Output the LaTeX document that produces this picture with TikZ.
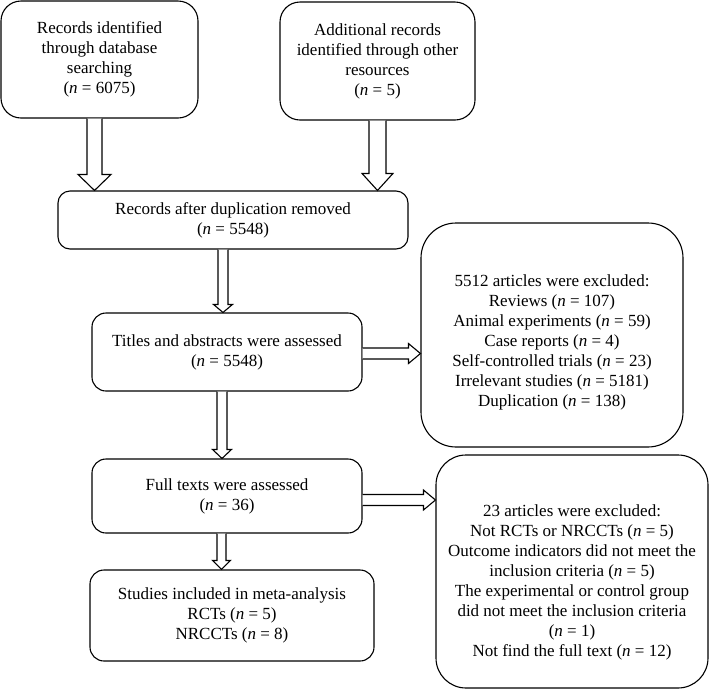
\documentclass[tikz,border=0pt]{standalone}
\usepackage{fontspec}
\setmainfont{Liberation Serif}
\usetikzlibrary{calc}
\newcommand\vhollow[6]{% #1 x, #2 from node, #3 to node, #4 shaft half, #5 head half, #6 head length
  \draw[hollow] let \p1=(#2.south), \p2=(#3.north) in
    (#1pt-#4pt,\y1) -- (#1pt-#4pt,\y2+#6pt) -- (#1pt-#5pt,\y2+#6pt) -- (#1pt,\y2)
    -- (#1pt+#5pt,\y2+#6pt) -- (#1pt+#4pt,\y2+#6pt) -- (#1pt+#4pt,\y1);}
\newcommand\hhollow[6]{% #1 y px, #2 from node, #3 to node, #4 shaft half, #5 head half, #6 head length
  \draw[hollow] let \p1=(#2.east), \p2=(#3.west) in
    (\x1,-#1pt+#4pt) -- (\x2-#6pt,-#1pt+#4pt) -- (\x2-#6pt,-#1pt+#5pt) -- (\x2,-#1pt)
    -- (\x2-#6pt,-#1pt-#5pt) -- (\x2-#6pt,-#1pt-#4pt) -- (\x1,-#1pt-#4pt);}
\begin{document}
\begin{tikzpicture}[x=1pt,y=-1pt,
  font=\fontsize{17}{20}\selectfont,
  box/.style={draw=black, line width=1.1pt, fill=white, align=center, inner sep=0pt},
  txt/.style={align=center, inner sep=0pt},
  hollow/.style={draw=black, line width=1.1pt, fill=white, line join=miter}]
\useasboundingbox (0,0) rectangle (710,697);
\node[box, rounded corners=20pt, minimum width=197pt, minimum height=117pt] (b1) at (99.5,59.5)
  {Records identified\\through database\\searching\\(\textit{n} = 6075)};
\node[box, rounded corners=20pt, minimum width=195pt, minimum height=118pt] (b2) at (377.5,61)
  {Additional records\\identified through other\\resources\\(\textit{n} = 5)};
\node[box, rounded corners=12pt, minimum width=350pt, minimum height=58pt] (b3) at (233,220)
  {Records after duplication removed\\(\textit{n} = 5548)};
\node[box, rounded corners=14pt, minimum width=270pt, minimum height=78pt] (b4) at (227,352)
  {Titles and abstracts were assessed\\(\textit{n} = 5548)};
\node[box, rounded corners=14pt, minimum width=270pt, minimum height=74pt] (b5) at (227,496)
  {Full texts were assessed\\(\textit{n} = 36)};
\node[box, rounded corners=14pt, minimum width=284pt, minimum height=91pt] (b6) at (232,615.5)
  {Studies included in meta-analysis\\RCTs (\textit{n} = 5)\\NRCCTs (\textit{n} = 8)};
\node[box, rounded corners=35pt, minimum width=262pt, minimum height=224pt] (r1) at (552,335) {};
\node[txt] (r1t) at (552,342)
  {5512 articles were excluded:\\Reviews (\textit{n} = 107)\\Animal experiments (\textit{n} = 59)\\Case reports (\textit{n} = 4)\\Self-controlled trials (\textit{n} = 23)\\Irrelevant studies (\textit{n} = 5181)\\Duplication (\textit{n} = 138)};
\node[box, rounded corners=30pt, minimum width=272pt, minimum height=233pt] (r2) at (572,571.5) {};
\node[txt] (r2t) at (572,582)
  {23 articles were excluded:\\Not RCTs or NRCCTs (\textit{n} = 5)\\Outcome indicators did not meet the\\inclusion criteria (\textit{n} = 5)\\The experimental or control group\\did not meet the inclusion criteria\\(\textit{n} = 1)\\Not find the full text (\textit{n} = 12)};
\vhollow{94.5}{b1}{b3}{7.5}{16.5}{16}
\vhollow{377.5}{b2}{b3}{8.5}{15.5}{17}
\vhollow{223}{b3}{b4}{5}{9.5}{8}
\vhollow{222}{b4}{b5}{5}{9.5}{9}
\vhollow{221.5}{b5}{b6}{4.5}{9}{9}
\hhollow{353.5}{b4}{r1}{5.5}{10}{12}
\hhollow{500}{b5}{r2}{5.5}{10}{12}
\end{tikzpicture}
\end{document}
